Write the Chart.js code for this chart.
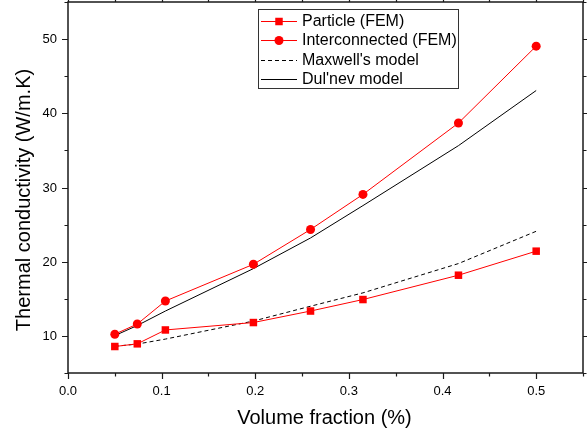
<!DOCTYPE html>
<html><head><meta charset="utf-8">
<script src="https://cdn.jsdelivr.net/npm/chart.js@4/dist/chart.umd.min.js"></script>
<style>html,body{margin:0;padding:0;background:#fff;}canvas{display:block;}</style>
</head><body>
<canvas id="c" width="587" height="432"></canvas>
<script>
const volumeFraction = [0.05, 0.074, 0.104, 0.198, 0.259, 0.315, 0.417, 0.5];
const particleFEM = [8.57, 8.93, 10.8, 11.8, 13.35, 14.9, 18.18, 21.42];
const interconnectedFEM = [10.23, 11.6, 14.7, 19.65, 24.34, 29.07, 38.69, 49.05];
const maxwellModel = [8.6, 8.9, 9.57, 12.0, 14.0, 15.8, 19.75, 24.1];
const dulnevModel = [10.04, 11.4, 13.35, 19.07, 23.2, 27.56, 35.64, 43.07];
const seriesLabels = ["Particle (FEM)", "Interconnected (FEM)", "Maxwell's model", "Dul'nev model"];
const xTickLabels = ["0.0", "0.1", "0.2", "0.3", "0.4", "0.5"];
const yTickLabels = ["10", "20", "30", "40", "50"];
const xTitle = "Volume fraction (%)";
const yTitle = "Thermal conductivity (W/m.K)";

const FONT = "Arial, 'Liberation Sans', sans-serif";
const pts = (ys) => volumeFraction.map((x, i) => ({x: x, y: ys[i]}));

const datasets = [
  {label: seriesLabels[0], data: pts(particleFEM), borderColor: '#ff0000', backgroundColor: '#ff0000',
   borderWidth: 1, pointStyle: 'rect', pointRadius: 5.3, pointBorderWidth: 0, pointBackgroundColor: '#ff0000', order: 1},
  {label: seriesLabels[1], data: pts(interconnectedFEM), borderColor: '#ff0000', backgroundColor: '#ff0000',
   borderWidth: 1, pointStyle: 'circle', pointRadius: 4.5, pointBorderWidth: 0, pointBackgroundColor: '#ff0000', order: 2},
  {label: seriesLabels[2], data: pts(maxwellModel), borderColor: '#000000', borderWidth: 1, borderDash: [4, 3],
   pointRadius: 0, order: 3},
  {label: seriesLabels[3], data: pts(dulnevModel), borderColor: '#000000', borderWidth: 1,
   pointRadius: 0, order: 4}
];

const zeroPad = (s) => { s.paddingTop = 0; s.paddingBottom = 0; s.paddingLeft = 0; s.paddingRight = 0; };
const isMajorX = (v) => Math.abs(v * 10 - Math.round(v * 10)) < 1e-6;
const isMajorY = (v) => Math.round(v) % 10 === 0;

const framePlugin = {
  id: 'frame',
  afterDatasetsDraw(chart) {
    const ctx = chart.ctx, a = chart.chartArea;
    const xs = chart.scales.x, ys = chart.scales.y;
    ctx.save();
    ctx.strokeStyle = '#1a1a1a';
    ctx.lineWidth = 1.5;
    ctx.strokeRect(a.left, a.top, a.right - a.left, a.bottom - a.top);
    ctx.lineWidth = 1.2;
    ctx.beginPath();
    xs.ticks.forEach(t => {
      const px = Math.round(xs.getPixelForValue(t.value)) + 0.5;
      const L = isMajorX(t.value) ? 6 : 3.5;
      ctx.moveTo(px, a.bottom); ctx.lineTo(px, a.bottom + L);
      ctx.moveTo(px, a.top); ctx.lineTo(px, a.top - L);
    });
    ys.ticks.forEach(t => {
      const py = Math.round(ys.getPixelForValue(t.value)) + 0.5;
      const L = isMajorY(t.value) ? 6 : 3.5;
      ctx.moveTo(a.left, py); ctx.lineTo(a.left - L, py);
      ctx.moveTo(a.right, py); ctx.lineTo(a.right + L, py);
    });
    ctx.stroke();

    // tick labels
    ctx.fillStyle = '#000';
    ctx.font = '13px ' + FONT;
    ctx.textAlign = 'center';
    ctx.textBaseline = 'middle';
    xs.ticks.forEach(t => {
      const s = Number(t.value).toFixed(1);
      if (isMajorX(t.value) && xTickLabels.includes(s)) {
        ctx.fillText(s, xs.getPixelForValue(t.value), a.bottom + 18);
      }
    });
    ctx.textAlign = 'right';
    ys.ticks.forEach(t => {
      const s = String(t.value);
      if (yTickLabels.includes(s)) ctx.fillText(s, a.left - 11, ys.getPixelForValue(t.value) + 0.5);
    });

    // axis titles
    ctx.font = '20px ' + FONT;
    ctx.textAlign = 'center';
    ctx.textBaseline = 'alphabetic';
    ctx.fillText(xTitle, (a.left + a.right) / 2 - 1, 423.5);
    ctx.translate(29.5, (a.top + a.bottom) / 2 + 12.5);
    ctx.rotate(-Math.PI / 2);
    ctx.fillText(yTitle, 0, 0);
    ctx.restore();
  },
  afterDraw(chart) {
    const ctx = chart.ctx;
    const bx = 258, by = 9.5, bw = 200, bh = 79;
    ctx.save();
    ctx.fillStyle = '#ffffff';
    ctx.fillRect(bx, by, bw, bh);
    ctx.strokeStyle = '#333333';
    ctx.lineWidth = 1;
    ctx.strokeRect(bx + 0.5, by, bw, bh);
    const rows = [20.5, 40, 59.5, 79];
    chart.data.datasets.forEach((ds, i) => {
      const y = Math.round(rows[i]) + 0.5;
      ctx.strokeStyle = ds.borderColor;
      ctx.lineWidth = 1;
      ctx.setLineDash(ds.borderDash || []);
      ctx.beginPath();
      ctx.moveTo(261, y); ctx.lineTo(297, y);
      ctx.stroke();
      ctx.setLineDash([]);
      ctx.fillStyle = ds.borderColor;
      if (ds.pointRadius > 0) {
        if (ds.pointStyle === 'rect') {
          const s = ds.pointRadius * Math.SQRT1_2;
          ctx.fillRect(279 - s, y - s, 2 * s, 2 * s);
        } else {
          ctx.beginPath(); ctx.arc(279, y, ds.pointRadius, 0, Math.PI * 2); ctx.fill();
        }
      }
      ctx.fillStyle = '#000';
      ctx.font = '16px ' + FONT;
      ctx.textBaseline = 'middle';
      ctx.textAlign = 'left';
      ctx.fillText(ds.label, 302, y + 0.5);
    });
    ctx.restore();
  }
};

new Chart(document.getElementById('c'), {
  type: 'scatter',
  data: {datasets: datasets.map(d => Object.assign({showLine: true, fill: false, tension: 0}, d))},
  options: {
    responsive: false,
    animation: false,
    layout: {autoPadding: false, padding: {left: 0, right: 4, top: 2, bottom: 0}},
    plugins: {legend: {display: false}, tooltip: {enabled: false}},
    scales: {
      x: {
        type: 'linear', min: 0, max: 0.55,
        afterFit: (s) => { s.height = 59; zeroPad(s); },
        ticks: {display: false, stepSize: 0.05, autoSkip: false, maxRotation: 0},
        grid: {display: false},
        border: {display: false},
        title: {display: false}
      },
      y: {
        type: 'linear', min: 5, max: 55,
        afterFit: (s) => { s.width = 68; zeroPad(s); },
        ticks: {display: false, stepSize: 5, autoSkip: false},
        grid: {display: false},
        border: {display: false},
        title: {display: false}
      }
    }
  },
  plugins: [framePlugin]
});
</script>
</body></html>
